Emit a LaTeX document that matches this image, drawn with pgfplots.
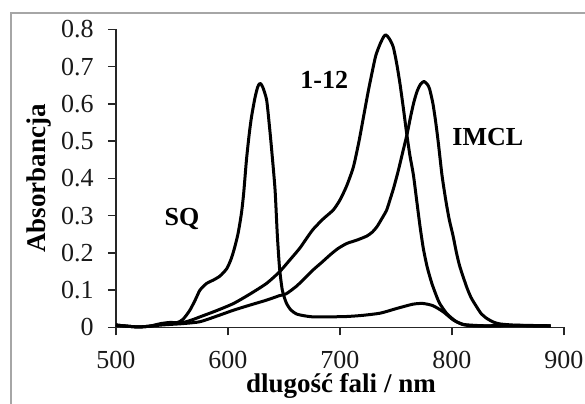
\documentclass[border=0pt]{standalone}
\usepackage{fontspec}
\setmainfont{Liberation Serif}
\usepackage{pgfplots}
\pgfplotsset{compat=1.18}

\begin{document}
\begin{tikzpicture}
% page size (1 px of the reference = 0.5 pt)
\path[use as bounding box] (-58pt,-37.85pt) rectangle (234.5pt,163.65pt);
% grey frame, cut off on the right and at the bottom
\draw[black!35, line width=1pt] (-52.25pt,-40pt) -- (-52.25pt,157.2pt) -- (240pt,157.2pt);
\begin{axis}[
    scale only axis,
    width=224pt, height=149pt,
    at={(0pt,0pt)}, anchor=south west,
    xmin=500, xmax=900,
    ymin=0, ymax=0.8,
    axis x line*=bottom, axis y line*=left,
    axis line style={line width=0.8pt, black!85},
    tick style={line width=0.8pt, black!85},
    tick align=outside,
    major tick length=4pt,
    xtick={500,600,700,800,900},
    ytick={0,0.1,0.2,0.3,0.4,0.5,0.6,0.7,0.8},
    /pgf/number format/assume math mode=true,
    tick label style={font=\fontsize{13}{15}\selectfont, text=black!90},
    yticklabel style={/pgf/number format/fixed, /pgf/number format/precision=1, xshift=-3.7pt},
    xticklabel style={/pgf/number format/1000 sep={}, yshift=-4.6pt},
    ylabel={Absorbancja},
    ylabel style={font=\bfseries\fontsize{13.5}{15}\selectfont, at={(axis description cs:-0.172,0.5)}, anchor=center},
    xlabel={dlugość fali / nm},
    xlabel style={font=\bfseries\fontsize{13.5}{15}\selectfont, at={(axis description cs:0.502,-0.197)}, anchor=center},
    clip=false,
    spec/.style={black, line width=1.5pt, line join=round, no markers, smooth, tension=0.4},
]
% SQ
\addplot[spec] coordinates {
(500,0.006)(510,0.003)(520,0.001)(530,0.003)(540,0.010)(548,0.013)(555,0.013)
(560,0.022)(566,0.046)(571,0.075)(575,0.100)(581,0.118)(587,0.127)(593,0.138)
(599,0.158)(603,0.185)(606,0.215)(609,0.252)(612,0.306)(614,0.36)(616.5,0.45)
(619,0.52)(621,0.565)(624,0.615)(626.5,0.645)(628.6,0.655)(631,0.645)(634.5,0.61)
(637,0.54)(639,0.476)(642,0.37)(644,0.25)(646,0.16)(648.5,0.10)(652,0.066)
(656,0.047)(661,0.036)(668,0.031)(676,0.028)(690,0.028)(706,0.029)(720,0.032)
(736,0.038)(750,0.050)(765,0.062)(774,0.064)(783,0.058)(792,0.042)(801,0.020)
(810,0.007)(820,0.004)(840,0.004)(860,0.005)(875,0.004)(888,0.004)
};
% 1-12
\addplot[spec] coordinates {
(500,0.006)(510,0.003)(520,0.001)(530,0.003)(540,0.008)(550,0.010)(560,0.013)
(568,0.020)(575,0.028)(590,0.045)(605,0.064)(620,0.090)(634.5,0.118)(646,0.149)
(655,0.18)(664,0.212)(670,0.238)(676,0.263)(685,0.291)(694,0.315)(700,0.342)
(706,0.38)(712,0.431)(717,0.50)(721,0.565)(725,0.63)(728.5,0.682)(732,0.73)
(736,0.762)(739,0.780)(741,0.785)(744,0.775)(747.5,0.753)(750.5,0.71)
(753.5,0.655)(756.5,0.59)(759.5,0.521)(762.5,0.46)(765.5,0.41)(768.5,0.34)
(771.5,0.27)(774.5,0.21)(778,0.16)(782,0.118)(786,0.085)(789,0.064)(795,0.038)
(800,0.024)(804,0.015)(810,0.008)(816,0.006)(830,0.004)(850,0.005)(870,0.004)(888,0.004)
};
% IMCL
\addplot[spec] coordinates {
(500,0.006)(510,0.003)(520,0.001)(530,0.003)(540,0.006)(550,0.008)(560,0.010)
(575,0.015)(590,0.030)(605,0.046)(620,0.060)(634.5,0.073)(646,0.085)(652,0.090)
(661,0.110)(668,0.130)(676,0.154)(684,0.175)(691,0.194)(698,0.211)(706,0.225)
(715,0.234)(724,0.245)(729,0.256)(733,0.27)(738,0.295)(741.7,0.315)(744.6,0.342)
(748,0.375)(752,0.42)(756,0.47)(760,0.52)(763,0.565)(766,0.605)(769,0.635)
(772,0.653)(775,0.66)(778,0.652)(780,0.64)(783,0.60)(785.5,0.55)(788,0.49)
(791,0.41)(794.4,0.342)(797.5,0.29)(801,0.245)(804,0.20)(807,0.163)(813,0.109)
(817,0.08)(822,0.055)(826,0.037)(831,0.024)(837,0.014)(843,0.009)(855,0.006)
(870,0.005)(888,0.004)
};
\node[font=\bfseries\fontsize{13}{15}\selectfont] at (axis cs:559,0.291) {SQ};
\node[font=\bfseries\fontsize{13}{15}\selectfont] at (axis cs:686,0.663) {1-12};
\node[font=\bfseries\fontsize{13}{15}\selectfont] at (axis cs:832,0.51) {IMCL};
\end{axis}
\end{tikzpicture}
\end{document}
